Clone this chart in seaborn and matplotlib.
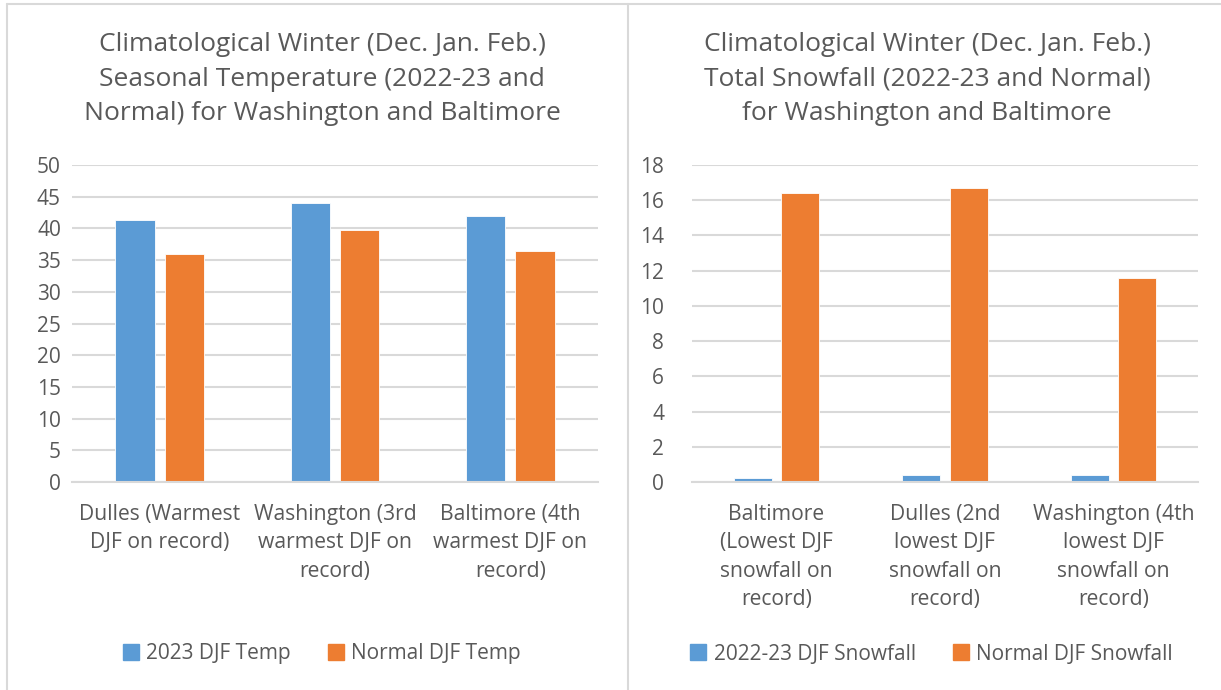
import pandas as pd
import seaborn as sns
import matplotlib.pyplot as plt
from matplotlib.lines import Line2D

# values
temp_sites = ['Dulles (Warmest\nDJF on record)',
              'Washington (3rd\nwarmest DJF on\nrecord)',
              'Baltimore (4th\nwarmest DJF on\nrecord)']
temp_2023 = [41.3, 44.0, 42.0]
temp_normal = [36.0, 39.7, 36.5]
temp_series = ['2023 DJF Temp', 'Normal DJF Temp']

snow_sites = ['Baltimore\n(Lowest DJF\nsnowfall on\nrecord)',
              'Dulles (2nd\nlowest DJF\nsnowfall on\nrecord)',
              'Washington (4th\nlowest DJF\nsnowfall on\nrecord)']
snow_2023 = [0.2, 0.4, 0.4]
snow_normal = [16.4, 16.7, 11.6]
snow_series = ['2022-23 DJF Snowfall', 'Normal DJF Snowfall']

BLUE = '#5B9BD5'
ORANGE = '#ED7D31'
TEXT = '#595959'
GRID = '#D9D9D9'

sns.set_theme(style='white')
plt.rcParams['font.family'] = ['Open Sans', 'DejaVu Sans']
plt.rcParams['text.color'] = TEXT
plt.rcParams['xtick.color'] = TEXT
plt.rcParams['ytick.color'] = TEXT


def long_df(sites, a, b, names):
    return pd.DataFrame({
        'site': sites * 2,
        'value': a + b,
        'series': [names[0]] * len(sites) + [names[1]] * len(sites),
    })


def draw_panel(ax, df, names, ymax, step, title, title_x, legend_x, ypad):
    sns.barplot(data=df, x='site', y='value', hue='series',
                palette=[BLUE, ORANGE], saturation=1, width=0.56, gap=0.2,
                ax=ax, legend=False, edgecolor='white', linewidth=0.6)
    ax.set_ylim(0, ymax)
    ax.set_yticks(range(0, ymax + 1, step))
    ax.set_xlim(-0.5, 2.5)
    ax.yaxis.grid(True, color=GRID, linewidth=1.5)
    ax.set_axisbelow(True)
    for s in ['top', 'right', 'left']:
        ax.spines[s].set_visible(False)
    ax.spines['bottom'].set_color(GRID)
    ax.spines['bottom'].set_linewidth(1.5)
    ax.set_xlabel('')
    ax.set_ylabel('')
    ax.tick_params(axis='y', labelsize=15, length=0, pad=ypad)
    ax.tick_params(axis='x', labelsize=15.2, length=0, pad=16)
    for lab in ax.get_xticklabels():
        lab.set_linespacing(1.45)
    fig.text(title_x, 1 - 79 / 690, title, ha='center', va='center',
             fontsize=19, linespacing=1.52, color=TEXT)
    handles = [Line2D([], [], marker='s', linestyle='', markersize=11,
                      color=c) for c in (BLUE, ORANGE)]
    ax.legend(handles, names, loc='center', ncol=2, frameon=False,
              bbox_to_anchor=(legend_x, 1 - 654 / 690),
              bbox_transform=fig.transFigure, fontsize=15,
              handlelength=0.7, handletextpad=0.4, columnspacing=1.8)


fig = plt.figure(figsize=(12.21, 6.90), dpi=100)
ax1 = fig.add_axes([72 / 1221, 1 - 482 / 690, 526 / 1221, 317 / 690])
ax2 = fig.add_axes([692 / 1221, 1 - 482 / 690, 506 / 1221, 317 / 690])

draw_panel(ax1, long_df(temp_sites, temp_2023, temp_normal, temp_series),
           temp_series, 50, 5,
           'Climatological Winter (Dec. Jan. Feb.)\nSeasonal Temperature (2022-23 and\nNormal) for Washington and Baltimore',
           322 / 1221, 322 / 1221, 8)
draw_panel(ax2, long_df(snow_sites, snow_2023, snow_normal, snow_series),
           snow_series, 18, 2,
           'Climatological Winter (Dec. Jan. Feb.)\nTotal Snowfall (2022-23 and Normal)\nfor Washington and Baltimore',
           927 / 1221, 932 / 1221, 20)

# panel borders
border = dict(color=GRID, linewidth=1.5, transform=fig.transFigure)
fig.add_artist(Line2D([7 / 1221, 1], [1 - 4 / 690, 1 - 4 / 690], **border))
fig.add_artist(Line2D([7 / 1221, 7 / 1221], [0, 1 - 4 / 690], **border))
fig.add_artist(Line2D([628 / 1221, 628 / 1221], [0, 1 - 4 / 690], **border))

fig.savefig('out.png', dpi=100)
